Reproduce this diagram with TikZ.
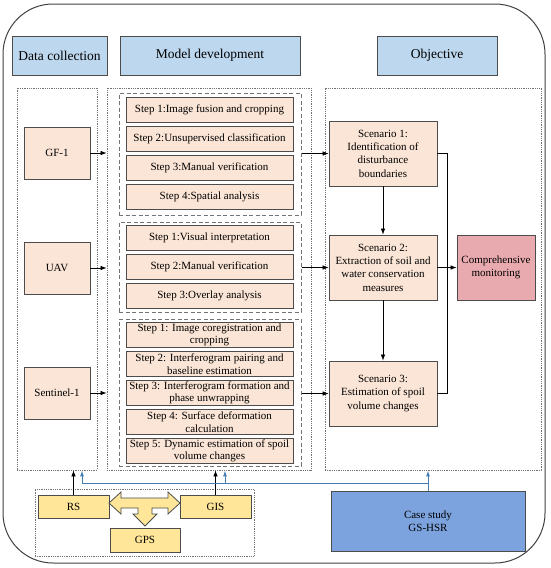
\documentclass[tikz,border=0pt]{standalone}
\usepackage{fontspec}
\setmainfont{Liberation Serif}
\usetikzlibrary{positioning,shapes,fit,arrows.meta}
\definecolor{hdrblue}{RGB}{189,215,238}
\definecolor{peach}{RGB}{251,229,214}
\definecolor{rose}{RGB}{232,170,174}
\definecolor{sand}{RGB}{255,230,153}
\definecolor{caseblue}{RGB}{124,163,222}
\definecolor{linkblue}{RGB}{70,125,180}
\tikzset{
        arr/.style={-{Latex[length=6pt,width=4.5pt]}, line width=0.7pt}, % black connectors
        barr/.style={-{Latex[length=6pt,width=4pt]}, linkblue, line width=1pt}, % blue connectors
        hdr/.style={draw=black!70, fill=hdrblue, line width=0.8pt, minimum height=39, font=\fontsize{13.5}{16}\selectfont},
        col/.style={draw=black!55, densely dotted, line width=0.8pt},
        grp/.style={draw=black!55, dash pattern=on 4pt off 2.5pt, line width=1pt, minimum width=182},
        stepbox/.style={draw=black!70, fill=peach, line width=0.8pt, minimum width=167, minimum height=25, inner sep=0pt, align=center, font=\fontsize{11}{12.6}\selectfont},
        src/.style={draw=black!70, fill=peach, line width=0.8pt, minimum width=66, minimum height=52},
        scen/.style={draw=black!70, fill=peach, line width=0.8pt, minimum width=108, minimum height=65, inner sep=0pt, align=center},
        tool/.style={draw=black!70, fill=sand, line width=0.8pt, minimum width=71, minimum height=23},
}
\begin{document}
\begin{tikzpicture}[x=1pt, y=-1pt, font=\fontsize{11}{13.3}\selectfont]
\useasboundingbox (0,0) rectangle (550,568);
\draw[black!75, line width=1pt, rounded corners=50] (3,4) rectangle (545,563);

% headers
\node[hdr, minimum width=95] (hdata) at (59.5,55.5) {Data collection};
\node[hdr, minimum width=180] (hmodel) at (210,55.5) {Model development};
\node[hdr, minimum width=120] (hobj) at (437,55.5) {Objective};

% columns
\node[col, minimum width=80, minimum height=382] (dcol) at (57,279) {};
\node[col, minimum width=204, minimum height=382] (mcol) at (209,279) {};
\node[col, minimum width=216, minimum height=382] (ocol) at (433,279) {};

% groups of steps
\node[grp, minimum height=122] (g1) at (210,154) {};
\node[grp, minimum height=90] (g2) at (210,267) {};
\node[grp, minimum height=147] (g3) at (210,392.5) {};

\foreach \y/\t [count=\i] in {110/{Step 1:Image fusion and cropping},139/{Step 2:Unsupervised classification},168/{Step 3:Manual verification},197/{Step 4:Spatial analysis}}
  \node[stepbox] (a\i) at (209.5,\y) {\t};
\foreach \y/\t [count=\i] in {238/{Step 1:Visual interpretation},267/{Step 2:Manual verification},296/{Step 3:Overlay analysis}}
  \node[stepbox] (b\i) at (209.5,\y) {\t};
\foreach \y/\t [count=\i] in {335/{Step 1: Image coregistration and\\cropping},364/{Step 2: Interferogram pairing and\\baseline estimation},393/{Step 3: Interferogram formation and\\phase unwrapping},422/{Step 4: Surface deformation\\calculation},451/{Step 5: Dynamic estimation of spoil\\volume changes}}
  \node[stepbox] (c\i) at (209.5,\y) {\t};

% data sources
\foreach \y/\n/\t in {153/gf/GF-1,268/uav/UAV,393/sen/Sentinel-1} {
  \node[src] (\n) at (57,\y) {\t};
  \draw[arr] (\n) -- (\n -| mcol.west);
}

% objectives
\node[scen] (sc1) at (383,153.5) {Scenario 1:\\Identification of\\disturbance\\boundaries};
\node[scen] (sc2) at (383,267.5) {Scenario 2:\\Extraction of soil and\\water conservation\\measures};
\node[scen] (sc3) at (383,393.5) {Scenario 3:\\Estimation of spoil\\volume changes};
\node[draw=black!70, fill=rose, line width=0.8pt, minimum width=78, minimum height=65, align=center] (cm) at (496,267.5) {Comprehensive\\monitoring};

\draw[arr] (g1.east |- sc1) -- (sc1);
\draw[arr] (g2.east |- sc2) -- (sc2);
\draw[arr] (g3.east |- sc3) -- (sc3);
\draw[arr] (sc1) -- (sc2);
\draw[arr] (sc2) -- (sc3);
\draw[line width=0.7pt] (sc1.east) -- ++(10,0) |- (sc3.east);
\draw[arr] (sc2) -- (cm);

% tools
\node[col, minimum width=219, minimum height=67] (tools) at (144.5,522.5) {};
\node[tool] (rs) at (73.5,506.5) {RS};
\node[tool] (gis) at (215.5,506.5) {GIS};
\node[tool, minimum width=70, minimum height=24] (gps) at (145,540) {GPS};
\draw[black!70, fill=sand, line width=0.8pt] (109,503) -- (121,492) -- (121,498) -- (168,498) -- (168,492) -- (180,503) -- (168,514) -- (168,508) -- (152,508) -- (152,514) -- (157,514) -- (145,526) -- (133,514) -- (138,514) -- (138,508) -- (121,508) -- (121,514) -- cycle;
\draw[arr] (rs) -- (rs |- dcol.south);
\draw[arr] (gis) -- (gis |- mcol.south);

% case study
\node[draw=black!70, fill=caseblue, line width=0.8pt, minimum width=194, minimum height=60, align=center] (cs) at (428,521) {Case study\\GS-HSR};
\coordinate (b1) at (82,483);
\coordinate (b2) at (225,483);
\draw[barr] (cs.north) -- (cs.north |- ocol.south);
\draw[linkblue, line width=1pt] (b1) -- (b1 -| cs.north);
\draw[barr] (b1) -- (b1 |- dcol.south);
\draw[barr] (b2) -- (b2 |- mcol.south);
\end{tikzpicture}
\end{document}
